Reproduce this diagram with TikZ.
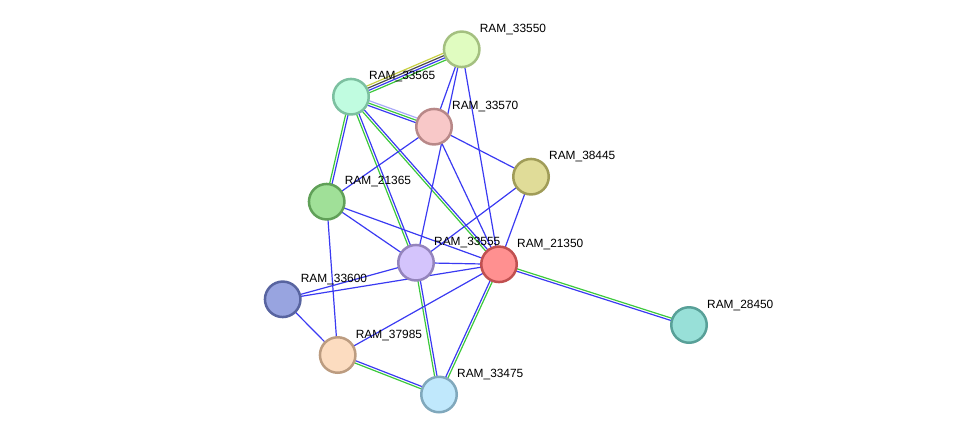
\documentclass[tikz,border=0pt]{standalone}
\usepackage{fontspec}
\setmainfont{Liberation Sans}
\usetikzlibrary{calc,backgrounds}
\definecolor{eblue}{HTML}{3A3AF2}
\definecolor{egreen}{HTML}{3CC83C}
\definecolor{eyellow}{HTML}{C8D040}
\definecolor{edark}{HTML}{4A4A4A}
\definecolor{elav}{HTML}{A8A8F8}
\tikzset{
  prot/.style={circle, minimum size=35.5pt, inner sep=0pt, line width=2.5pt},
  lbl/.style={anchor=base west, inner sep=0pt, font=\fontsize{11.9}{13}\selectfont, text=black},
  ln/.style={line width=1.2pt},
}
\newcommand\eline[4]{\draw[ln,#1] ($(#2.center)!#4!90:(#3.center)$) -- ($(#3.center)!#4!-90:(#2.center)$);}
\begin{document}
\begin{tikzpicture}[x=1pt,y=-1pt]
\useasboundingbox (0,0) rectangle (976,440);
\node[prot, fill={rgb,255:red,224;green,252;blue,192}, draw={rgb,255:red,164;green,192;blue,128}] (n33550) at (461.7,49.3) {};
\node[prot, fill={rgb,255:red,192;green,252;blue,224}, draw={rgb,255:red,124;green,192;blue,160}] (n33565) at (351,96.7) {};
\node[prot, fill={rgb,255:red,248;green,200;blue,200}, draw={rgb,255:red,184;green,136;blue,136}] (n33570) at (434,126.7) {};
\node[prot, fill={rgb,255:red,224;green,220;blue,152}, draw={rgb,255:red,160;green,156;blue,88}] (n38445) at (531,176.7) {};
\node[prot, fill={rgb,255:red,160;green,224;blue,152}, draw={rgb,255:red,96;green,160;blue,88}] (n21365) at (326.7,201.7) {};
\node[prot, fill={rgb,255:red,212;green,196;blue,252}, draw={rgb,255:red,148;green,132;blue,188}] (n33555) at (416,262.7) {};
\node[prot, fill={rgb,255:red,255;green,144;blue,144}, draw={rgb,255:red,192;green,80;blue,80}] (n21350) at (499,264.3) {};
\node[prot, fill={rgb,255:red,152;green,164;blue,224}, draw={rgb,255:red,88;green,100;blue,160}] (n33600) at (282.7,299.3) {};
\node[prot, fill={rgb,255:red,152;green,224;blue,216}, draw={rgb,255:red,88;green,160;blue,152}] (n28450) at (689,325) {};
\node[prot, fill={rgb,255:red,252;green,220;blue,192}, draw={rgb,255:red,188;green,156;blue,128}] (n37985) at (337.7,355) {};
\node[prot, fill={rgb,255:red,192;green,232;blue,252}, draw={rgb,255:red,128;green,168;blue,188}] (n33475) at (439,394.5) {};
\foreach \n in {33550,33565,33570,38445,21365,33555,21350,33600,28450,37985,33475}{
  \node[lbl] (l\n) at ([shift={(18,-17)}]n\n.center) {RAM\_\n};
}
\begin{scope}[on background layer]
\eline{eyellow}{n33565}{n33550}{3.6pt}
\eline{edark}{n33565}{n33550}{1.2pt}
\eline{eblue}{n33565}{n33550}{-1.2pt}
\eline{egreen}{n33565}{n33550}{-3.6pt}
\eline{elav}{n33565}{n33570}{2.4pt}
\eline{egreen}{n33565}{n33570}{0pt}
\eline{eblue}{n33565}{n33570}{-2.4pt}
\eline{eblue}{n33565}{n21365}{1.2pt}
\eline{egreen}{n33565}{n21365}{-1.2pt}
\eline{eblue}{n33565}{n33555}{1.2pt}
\eline{egreen}{n33565}{n33555}{-1.2pt}
\eline{eblue}{n33565}{n21350}{1.2pt}
\eline{egreen}{n33565}{n21350}{-1.2pt}
\eline{egreen}{n21350}{n28450}{1.2pt}
\eline{eblue}{n21350}{n28450}{-1.2pt}
\eline{eblue}{n33555}{n33475}{1.2pt}
\eline{egreen}{n33555}{n33475}{-1.2pt}
\eline{egreen}{n21350}{n33475}{1.2pt}
\eline{eblue}{n21350}{n33475}{-1.2pt}
\eline{eblue}{n37985}{n33475}{1.2pt}
\eline{egreen}{n37985}{n33475}{-1.2pt}
\foreach \a/\b in {33550/33570,33550/33555,33550/21350,33570/21365,33570/21350,33570/38445,38445/33555,38445/21350,21365/33555,21365/21350,21365/37985,33555/21350,33555/33600,21350/33600,21350/37985,33600/37985}{
  \draw[ln,eblue] (n\a.center) -- (n\b.center);
}
\end{scope}
\end{tikzpicture}
\end{document}
